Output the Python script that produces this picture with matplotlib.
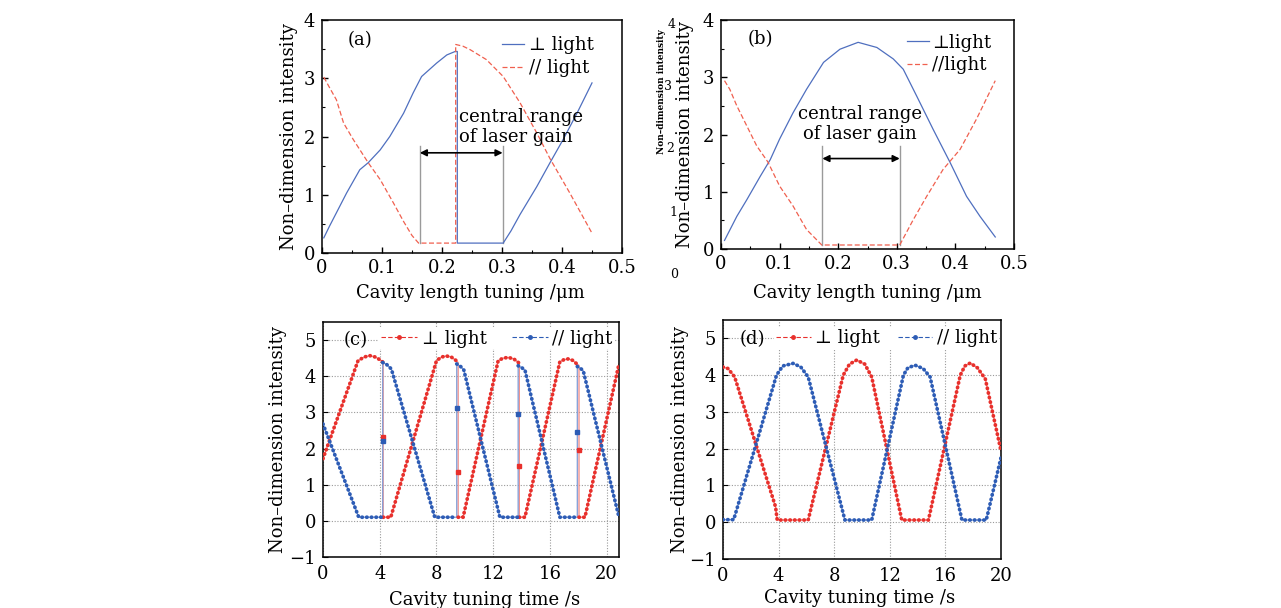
import numpy as np
import matplotlib
matplotlib.use("Agg")
import matplotlib.pyplot as plt
from matplotlib.lines import Line2D
from matplotlib.ticker import MultipleLocator

plt.rcParams['font.family'] = ['DejaVu Serif', 'DejaVu Sans']
plt.rcParams['mathtext.fontset'] = 'dejavuserif'

# ---------------- data ----------------
# (a) intensity vs cavity length tuning (um)
a_perp_x = [0.003, 0.012, 0.024, 0.041, 0.063, 0.077, 0.097, 0.113, 0.136, 0.152, 0.166,
            0.191, 0.208, 0.222, 0.2255, 0.2255, 0.302, 0.315, 0.330, 0.358, 0.380, 0.402,
            0.425, 0.450]
a_perp_y = [0.26, 0.45, 0.69, 1.03, 1.43, 1.55, 1.77, 2.00, 2.40, 2.75, 3.03,
            3.26, 3.40, 3.46, 3.46, 0.17, 0.17, 0.38, 0.66, 1.14, 1.55, 1.95,
            2.40, 2.92]
a_par_x = [0.003, 0.012, 0.024, 0.036, 0.052, 0.077, 0.097, 0.119, 0.136, 0.150, 0.161,
           0.2228, 0.2228, 0.235, 0.247, 0.274, 0.302, 0.330, 0.358, 0.380, 0.413, 0.450]
a_par_y = [3.02, 2.85, 2.63, 2.23, 1.95, 1.55, 1.26, 0.86, 0.54, 0.30, 0.17,
           0.17, 3.58, 3.55, 3.49, 3.32, 3.03, 2.58, 2.06, 1.62, 1.03, 0.34]
a_gain_range = (0.163, 0.301)

# (b) intensity vs cavity length tuning (um)
b_perp_x = [0.006, 0.0125, 0.027, 0.044, 0.067, 0.084, 0.100, 0.123, 0.146, 0.175, 0.203,
            0.234, 0.266, 0.294, 0.311, 0.334, 0.362, 0.391, 0.419, 0.442, 0.468]
b_perp_y = [0.15, 0.28, 0.57, 0.86, 1.27, 1.56, 1.92, 2.38, 2.79, 3.26, 3.49,
            3.61, 3.52, 3.32, 3.14, 2.67, 2.09, 1.51, 0.92, 0.57, 0.21]
b_par_x = [0.006, 0.015, 0.027, 0.044, 0.061, 0.080, 0.100, 0.123, 0.146, 0.172, 0.305,
           0.328, 0.351, 0.379, 0.408, 0.436, 0.468]
b_par_y = [2.94, 2.79, 2.50, 2.15, 1.80, 1.52, 1.10, 0.75, 0.34, 0.07, 0.07,
           0.51, 0.92, 1.39, 1.74, 2.27, 2.94]
b_gain_range = (0.173, 0.305)

# (c) intensity vs cavity tuning time (s)
c_perp_x = [0, 2.47, 2.9, 3.29, 3.7, 4.12, 4.24, 4.24, 4.78, 8.0, 8.35, 8.7, 9.05, 9.4,
            9.53, 9.53, 9.88, 12.35, 12.7, 13.06, 13.45, 13.84, 13.84, 14.24, 16.7, 17.0,
            17.3, 17.6, 17.9, 18.05, 18.05, 18.47, 20.87]
c_perp_y = [1.72, 4.43, 4.53, 4.57, 4.53, 4.43, 4.38, 0.1, 0.1, 4.43, 4.53, 4.56, 4.53, 4.43,
            4.38, 0.1, 0.1, 4.43, 4.50, 4.52, 4.48, 4.36, 0.1, 0.1, 4.40, 4.46,
            4.48, 4.44, 4.34, 4.30, 0.1, 0.1, 4.34]
c_par_x = [0, 2.52, 4.21, 4.21, 4.5, 4.82, 7.88, 9.43, 9.43, 9.7, 9.93, 12.47, 13.76, 13.76,
           14.0, 14.24, 16.7, 17.93, 17.93, 18.15, 18.35, 20.87]
c_par_y = [2.68, 0.1, 0.1, 4.38, 4.32, 4.2, 0.1, 0.1, 4.34, 4.27, 4.17, 0.1, 0.1, 4.29,
           4.24, 4.17, 0.1, 0.1, 4.27, 4.22, 4.15, 0.1]
# single samples caught mid-switch
c_perp_mid_x = [4.24, 9.53, 13.84, 18.05]
c_perp_mid_y = [2.32, 1.35, 1.52, 1.95]
c_par_mid_x = [4.21, 9.43, 13.76, 17.93]
c_par_mid_y = [2.20, 3.12, 2.96, 2.45]

# (d) intensity vs cavity tuning time (s)
d_perp_x = [0, 0.36, 0.84, 3.78, 3.90, 6.13, 8.65, 9.1, 9.62, 10.2, 10.7, 12.86, 14.78,
            17.07, 17.4, 17.79, 18.3, 18.87, 20.0]
d_perp_y = [4.22, 4.18, 3.95, 0.42, 0.06, 0.06, 4.0, 4.3, 4.41, 4.3, 3.95, 0.06, 0.06,
            4.0, 4.25, 4.33, 4.2, 3.9, 1.94]
d_par_x = [0, 0.77, 3.85, 4.3, 5.05, 5.6, 6.13, 8.77, 10.7, 12.98, 13.3, 13.82, 14.4, 14.9,
           17.19, 18.94, 20.0]
d_par_y = [0.07, 0.07, 4.0, 4.25, 4.32, 4.22, 3.95, 0.06, 0.06, 4.0, 4.2, 4.27, 4.18, 3.95,
           0.06, 0.06, 1.76]

len_ticks = [0, 0.1, 0.2, 0.3, 0.4, 0.5]
len_ticklabels = ['0', '0.1', '0.2', '0.3', '0.4', '0.5']
time_ticks_c = [0, 4, 8, 12, 16, 20]
time_ticks_d = [0, 4, 8, 12, 16, 20]

# ---------------- styling ----------------
W, H = 1281, 608
FS = 13
BLUE_LINE = '#4f6fbf'
RED_DASH = '#f0604f'
RED_DOT = '#e8302c'
BLUE_DOT = '#2d5cb5'
RED_THIN = '#f08a85'
BLUE_THIN = '#7f9bd6'
PERP = '\u22a5'
PAR = '//'

fig = plt.figure(figsize=(W / 100, H / 100), dpi=100)
fig.patch.set_facecolor('white')


def axes_px(left, top, right, bottom):
    return fig.add_axes([left / W, 1 - bottom / H, (right - left) / W, (bottom - top) / H])


def style_length_axes(ax):
    ax.set_xlim(0, 0.5)
    ax.set_ylim(0, 4)
    ax.set_xticks(len_ticks)
    ax.set_xticklabels(len_ticklabels)
    ax.set_yticks([0, 1, 2, 3, 4])
    ax.xaxis.set_minor_locator(MultipleLocator(0.05))
    ax.yaxis.set_minor_locator(MultipleLocator(0.5))
    ax.tick_params(which='both', direction='in', labelsize=FS)
    ax.tick_params(which='major', length=4.5, width=1.0)
    ax.tick_params(which='minor', length=2.5, width=0.8)
    ax.tick_params(axis='x', pad=4)
    ax.tick_params(axis='y', pad=5)
    for s in ax.spines.values():
        s.set_linewidth(1.1)
    ax.set_xlabel('Cavity length tuning /\u03bcm', fontsize=FS, va='center')
    ax.set_ylabel('Non\u2013dimension intensity', fontsize=FS, va='center')


def style_time_axes(ax, xmax, ticks):
    ax.set_xlim(0, xmax)
    ax.set_ylim(-1, 5.5)
    ax.set_xticks(ticks)
    ax.set_yticks([-1, 0, 1, 2, 3, 4, 5])
    ax.grid(True, color='#9a9a9a', linestyle=(0, (1, 1.5)), linewidth=0.8)
    ax.set_axisbelow(True)
    ax.tick_params(axis='y', direction='in', length=3.5, labelsize=FS, pad=5)
    ax.tick_params(axis='x', length=0, labelsize=FS, pad=6)
    for s in ax.spines.values():
        s.set_linewidth(1.1)
    ax.set_xlabel('Cavity tuning time /s', fontsize=FS, va='center')
    ax.set_ylabel('Non\u2013dimension intensity', fontsize=FS, va='center')


def sampled_trace(ax, x, y, color, thin):
    x = np.asarray(x, float)
    y = np.asarray(y, float)
    ax.plot(x, y, color=thin, lw=0.9, zorder=2)
    # dot texture on the sampled stretches, not on the instantaneous switching edges
    xs, ys = [x[0]], [y[0]]
    for i in range(1, len(x)):
        if abs(x[i] - x[i - 1]) < 1e-9:
            xs.append(np.nan)
            ys.append(np.nan)
        xs.append(x[i])
        ys.append(y[i])
    ax.plot(xs, ys, color=color, lw=2.7, linestyle=(0, (0.1, 1.15)),
            dash_capstyle='round', zorder=3)


# ---------------- (a) ----------------
ax_a = axes_px(322, 20, 622, 253)
style_length_axes(ax_a)
ax_a.plot(a_perp_x, a_perp_y, color=BLUE_LINE, lw=0.9, label=PERP + ' light')
ax_a.plot(a_par_x, a_par_y, color=RED_DASH, lw=0.9, ls=(0, (4, 2)), label=PAR + ' light')
for xv in a_gain_range:
    ax_a.plot([xv, xv], [0.17, 1.83], color='#9a9a9a', lw=1.0, zorder=1)
ax_a.annotate('', xy=(a_gain_range[0], 1.72), xytext=(a_gain_range[1], 1.72),
              arrowprops=dict(arrowstyle='<|-|>', color='black', lw=1.2,
                              mutation_scale=10, shrinkA=0, shrinkB=0))
ax_a.text(0.229, 2.16, 'central range\nof laser gain', fontsize=FS, ha='left',
          va='center', linespacing=1.15)
ax_a.text(0.063, 3.66, '(a)', fontsize=FS, ha='center', va='center')
ax_a.legend(loc='upper left', bbox_to_anchor=(0.6, 0.93), frameon=False, fontsize=FS,
            handlelength=1.2, handletextpad=0.3, labelspacing=0.25, borderpad=0,
            borderaxespad=0)
ax_a.xaxis.set_label_coords(0.493, -0.172)
ax_a.yaxis.set_label_coords(-0.11, 0.5)

# ---------------- (b) ----------------
ax_b = axes_px(721, 20, 1014, 249)
style_length_axes(ax_b)
ax_b.plot(b_perp_x, b_perp_y, color=BLUE_LINE, lw=0.9, label=PERP + 'light')
ax_b.plot(b_par_x, b_par_y, color=RED_DASH, lw=0.9, ls=(0, (4, 2)), label=PAR + 'light')
for xv in b_gain_range:
    ax_b.plot([xv, xv], [0.07, 1.8], color='#9a9a9a', lw=1.0, zorder=1)
ax_b.annotate('', xy=(b_gain_range[0], 1.58), xytext=(b_gain_range[1], 1.58),
              arrowprops=dict(arrowstyle='<|-|>', color='black', lw=1.2,
                              mutation_scale=10, shrinkA=0, shrinkB=0))
ax_b.text(0.237, 2.19, 'central range\nof laser gain', fontsize=FS, ha='center',
          va='center', linespacing=1.15)
ax_b.text(0.067, 3.67, '(b)', fontsize=FS, ha='center', va='center')
ax_b.legend(loc='upper left', bbox_to_anchor=(0.635, 0.94), frameon=False, fontsize=FS,
            handlelength=1.2, handletextpad=0.2, labelspacing=0.25, borderpad=0,
            borderaxespad=0)
ax_b.xaxis.set_label_coords(0.5, -0.192)
ax_b.yaxis.set_label_coords(-0.123, 0.5)

# small duplicate axis annotation to the left of (b)
fig.text(661 / W, 1 - 92 / H, 'Non\u2013dimension intensity', rotation=90, fontsize=6.5,
         fontweight='bold', ha='center', va='center')
for lbl, (px, py) in zip(['4', '3', '2', '1', '0'],
                         [(672, 25), (668, 86), (670, 148), (673, 213), (674, 275)]):
    fig.text(px / W, 1 - py / H, lbl, fontsize=9, ha='center', va='center')

# ---------------- (c) ----------------
ax_c = axes_px(323, 322, 619, 557)
style_time_axes(ax_c, 20.87, time_ticks_c)
sampled_trace(ax_c, c_perp_x, c_perp_y, RED_DOT, RED_THIN)
sampled_trace(ax_c, c_par_x, c_par_y, BLUE_DOT, BLUE_THIN)
ax_c.plot(c_perp_mid_x, c_perp_mid_y, 's', ms=2.6, color=RED_DOT, zorder=4)
ax_c.plot(c_par_mid_x, c_par_mid_y, 's', ms=2.6, color=BLUE_DOT, zorder=4)
ax_c.text(2.3, 4.99, '(c)', fontsize=FS, ha='center', va='center')
hc = [Line2D([], [], color=RED_DOT, lw=0.8, ls=(0, (4, 2)), marker='o', ms=2.5),
      Line2D([], [], color=BLUE_DOT, lw=0.8, ls=(0, (4, 2)), marker='o', ms=2.5)]
leg_c = ax_c.legend(hc, [PERP + ' light', PAR + ' light'], ncol=2, loc='upper left',
                    bbox_to_anchor=(0.19, 0.975), fontsize=FS, numpoints=1,
                    handlelength=2.0, handletextpad=0.25, columnspacing=1.4, borderpad=0.1,
                    borderaxespad=0, frameon=True, fancybox=False)
leg_c.get_frame().set_facecolor('white')
leg_c.get_frame().set_edgecolor('none')
leg_c.get_frame().set_alpha(1)
ax_c.xaxis.set_label_coords(0.547, -0.183)
ax_c.yaxis.set_label_coords(-0.152, 0.5)

# ---------------- (d) ----------------
ax_d = axes_px(723, 320, 1001, 559)
style_time_axes(ax_d, 20, time_ticks_d)
sampled_trace(ax_d, d_perp_x, d_perp_y, RED_DOT, RED_THIN)
sampled_trace(ax_d, d_par_x, d_par_y, BLUE_DOT, BLUE_THIN)
ax_d.text(2.08, 4.98, '(d)', fontsize=FS, ha='center', va='center')
hd = [Line2D([], [], color=RED_DOT, lw=0.8, ls=(0, (4, 2)), marker='o', ms=2.5),
      Line2D([], [], color=BLUE_DOT, lw=0.8, ls=(0, (4, 2)), marker='o', ms=2.5)]
leg_d = ax_d.legend(hd, [PERP + ' light', PAR + ' light'], ncol=2, loc='upper left',
                    bbox_to_anchor=(0.185, 0.97), fontsize=FS, numpoints=1,
                    handlelength=1.9, handletextpad=0.25, columnspacing=1.0, borderpad=0.1,
                    borderaxespad=0, frameon=True, fancybox=False)
leg_d.get_frame().set_facecolor('white')
leg_d.get_frame().set_edgecolor('none')
leg_d.get_frame().set_alpha(1)
ax_d.xaxis.set_label_coords(0.49, -0.163)
ax_d.yaxis.set_label_coords(-0.155, 0.5)

fig.savefig('out.png', dpi=100, facecolor='white')
